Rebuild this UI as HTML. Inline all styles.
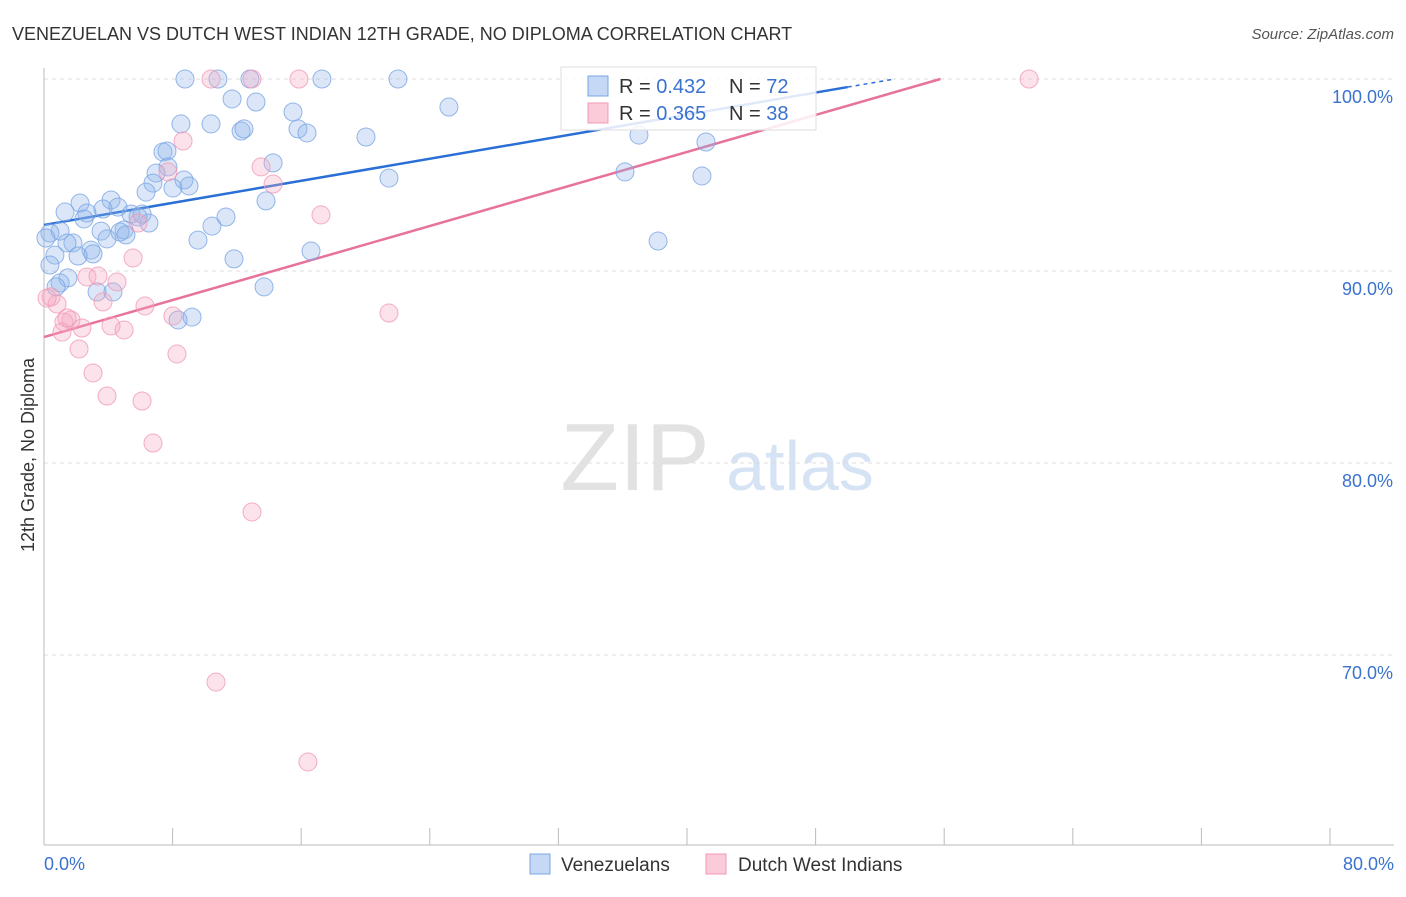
<!DOCTYPE html>
<html><head><meta charset="utf-8">
<style>
body{margin:0;background:#fff;font-family:"Liberation Sans",sans-serif;}
svg text{font-family:"Liberation Sans",sans-serif;}
</style></head>
<body>
<svg id="chart" width="1406" height="892">
<text x="12" y="40" font-size="18" fill="#333">VENEZUELAN VS DUTCH WEST INDIAN 12TH GRADE, NO DIPLOMA CORRELATION CHART</text>
<text x="1394" y="39" font-size="15" fill="#555" font-style="italic" text-anchor="end">Source: ZipAtlas.com</text>
<text x="0" y="0" transform="translate(34,455) rotate(-90)" font-size="18" fill="#333" text-anchor="middle">12th Grade, No Diploma</text>
<g><text x="635" y="490" font-size="96" fill="#e2e2e2" text-anchor="middle" font-family="Liberation Serif">ZIP</text><text x="800" y="490" font-size="70" fill="#d6e3f5" text-anchor="middle">atlas</text></g>
<g id="grid"></g><g id="axes"></g><g id="lines"></g><g id="pts"></g>
<g>
<rect x="561" y="67" width="255" height="63" fill="#fff" fill-opacity="0.85" stroke="#ddd"/>
<rect x="588" y="76" width="20" height="20" fill="#c5d8f5" stroke="#7aa5e3"/>
<text x="619" y="93" font-size="20" fill="#333">R = <tspan fill="#3a72d0">0.432</tspan></text>
<text x="729" y="93" font-size="20" fill="#333">N = <tspan fill="#3a72d0">72</tspan></text>
<rect x="588" y="103" width="20" height="20" fill="#fbcbd9" stroke="#f09ab6"/>
<text x="619" y="120" font-size="20" fill="#333">R = <tspan fill="#3a72d0">0.365</tspan></text>
<text x="729" y="120" font-size="20" fill="#333">N = <tspan fill="#3a72d0">38</tspan></text>
</g>
<g>
<rect x="530" y="854" width="20" height="20" fill="#c5d8f5" stroke="#7aa5e3"/>
<text x="561" y="871" font-size="19" fill="#333">Venezuelans</text>
<rect x="706" y="854" width="20" height="20" fill="#fbcbd9" stroke="#f09ab6"/>
<text x="738" y="871" font-size="19" fill="#333">Dutch West Indians</text>
</g>
</svg>
<script>
const xTicks=[0,8,16,24,32,40,48,56,64,72,80];
const yTicks=[70,80,90,100];
const blueX=[8.77,10.82,12.81,17.29,22.02,11.70,13.19,15.49,25.19,8.52,10.39,12.26,12.44,15.80,16.36,20.03,37.01,41.18,7.40,7.65,7.71,6.97,8.71,6.78,9.02,8.02,6.35,14.25,21.46,36.14,40.93,2.24,4.17,3.67,1.31,2.67,4.60,5.41,6.10,5.85,2.49,6.53,4.98,3.55,4.73,5.10,11.32,10.45,13.81,1.00,0.37,3.92,1.80,1.43,9.58,2.92,3.05,2.12,0.68,0.12,0.37,38.20,16.61,11.82,1.49,1.00,3.30,4.29,13.69,8.34,9.21,0.75];
const blueY=[100,100,100,100,100,98.96,98.80,98.28,98.54,97.66,97.66,97.29,97.40,97.40,97.19,96.98,97.08,96.72,96.20,96.25,95.42,95.10,94.74,94.58,94.43,94.32,94.11,95.63,94.84,95.16,94.95,93.54,93.70,93.23,93.07,93.02,93.33,92.97,92.97,92.81,92.71,92.50,92.14,92.08,92.03,91.88,92.81,92.34,93.65,92.08,91.98,91.67,91.46,91.46,91.61,91.09,90.89,90.78,90.83,91.72,90.31,91.56,91.04,90.63,89.64,89.38,88.91,88.91,89.17,87.45,87.60,89.17];
const pinkX=[10.39,12.94,15.86,61.28,8.65,13.50,7.71,14.25,17.23,5.85,5.54,2.67,3.36,4.54,0.44,0.81,6.28,3.67,8.02,21.46,1.68,1.24,2.36,4.17,4.98,1.12,2.18,8.27,3.05,3.92,6.10,6.78,12.94,10.70,16.42,0.19,1.43];
const pinkY=[100,100,100,100,96.77,95.42,95.16,94.53,92.92,92.50,90.68,89.69,89.74,89.43,88.65,88.28,88.18,88.39,87.66,87.81,87.45,87.34,87.03,87.14,86.93,86.82,85.94,85.68,84.69,83.49,83.23,81.04,77.45,68.59,64.43,88.59,87.55];
const blueTrend=[92.40,0.1436];
const pinkTrend=[86.56,0.241];
const NS="http://www.w3.org/2000/svg";
const X=v=>44+v*1286/80, Y=v=>79+(100-v)*19.2;
function mk(tag,attrs,parent){const e=document.createElementNS(NS,tag);for(const k in attrs)e.setAttribute(k,attrs[k]);document.getElementById(parent).appendChild(e);return e;}
yTicks.forEach(t=>{
 const l=mk('line',{x1:44,x2:1394,y1:Y(t),y2:Y(t),stroke:'#ddd','stroke-dasharray':'4,4'},'grid');
 
 
 const tx=mk('text',{x:1393,y:Y(t)+24,'font-size':18,fill:'#3a72d0','text-anchor':'end'},'grid');
 tx.textContent=t.toFixed(1)+'%';
 
 
});
const ax=mk('line',{x1:44,x2:44,y1:68,y2:845,stroke:'#bbb'},'axes');


const bx=mk('line',{x1:44,x2:1394,y1:845,y2:845,stroke:'#bbb'},'axes');


xTicks.forEach(t=>{
 const l=mk('line',{x1:X(t),x2:X(t),y1:828,y2:845,stroke:'#bbb'},'axes');
 
 
});
[[0,'start',44],[80,'end',1394]].forEach(([t,a,px])=>{
 const tx=mk('text',{x:px,y:870,'font-size':18,fill:'#3a72d0','text-anchor':a},'axes');
 tx.textContent=t.toFixed(1)+'%';
 
 
});
function pts(xs,ys,fill,stroke,name){xs.forEach((x,i)=>{
 const c=mk('circle',{cx:X(x),cy:Y(ys[i]),r:9,fill:fill,'fill-opacity':0.32,stroke:stroke,'stroke-opacity':0.8,'stroke-width':1},'pts');
 
 
});}
pts(blueX,blueY,'#8fb3ea','#7aa5e3','venezuelan-point');
pts(pinkX,pinkY,'#f5a9c1','#f09ab6','dutch-west-indian-point');
function trend(tr,color,name,xEnd){
 const xm=(100-tr[0])/tr[1];
 const xs=Math.min(xm,xEnd);
 const l=mk('line',{x1:X(0),y1:Y(tr[0]),x2:X(xs),y2:Y(tr[0]+tr[1]*xs),stroke:color,'stroke-width':2.5},'lines');
 
 
 if(xs<xm){const d=mk('line',{x1:X(xs),y1:Y(tr[0]+tr[1]*xs),x2:X(xm),y2:Y(100),stroke:color,'stroke-width':1.5,'stroke-dasharray':'4,4'},'lines');
 
 }
}
trend(blueTrend,'#2a6fd6','venezuelan-trend-line',50);
trend(pinkTrend,'#e8739a','dutch-west-indian-trend-line',80);
</script>
</body></html>
